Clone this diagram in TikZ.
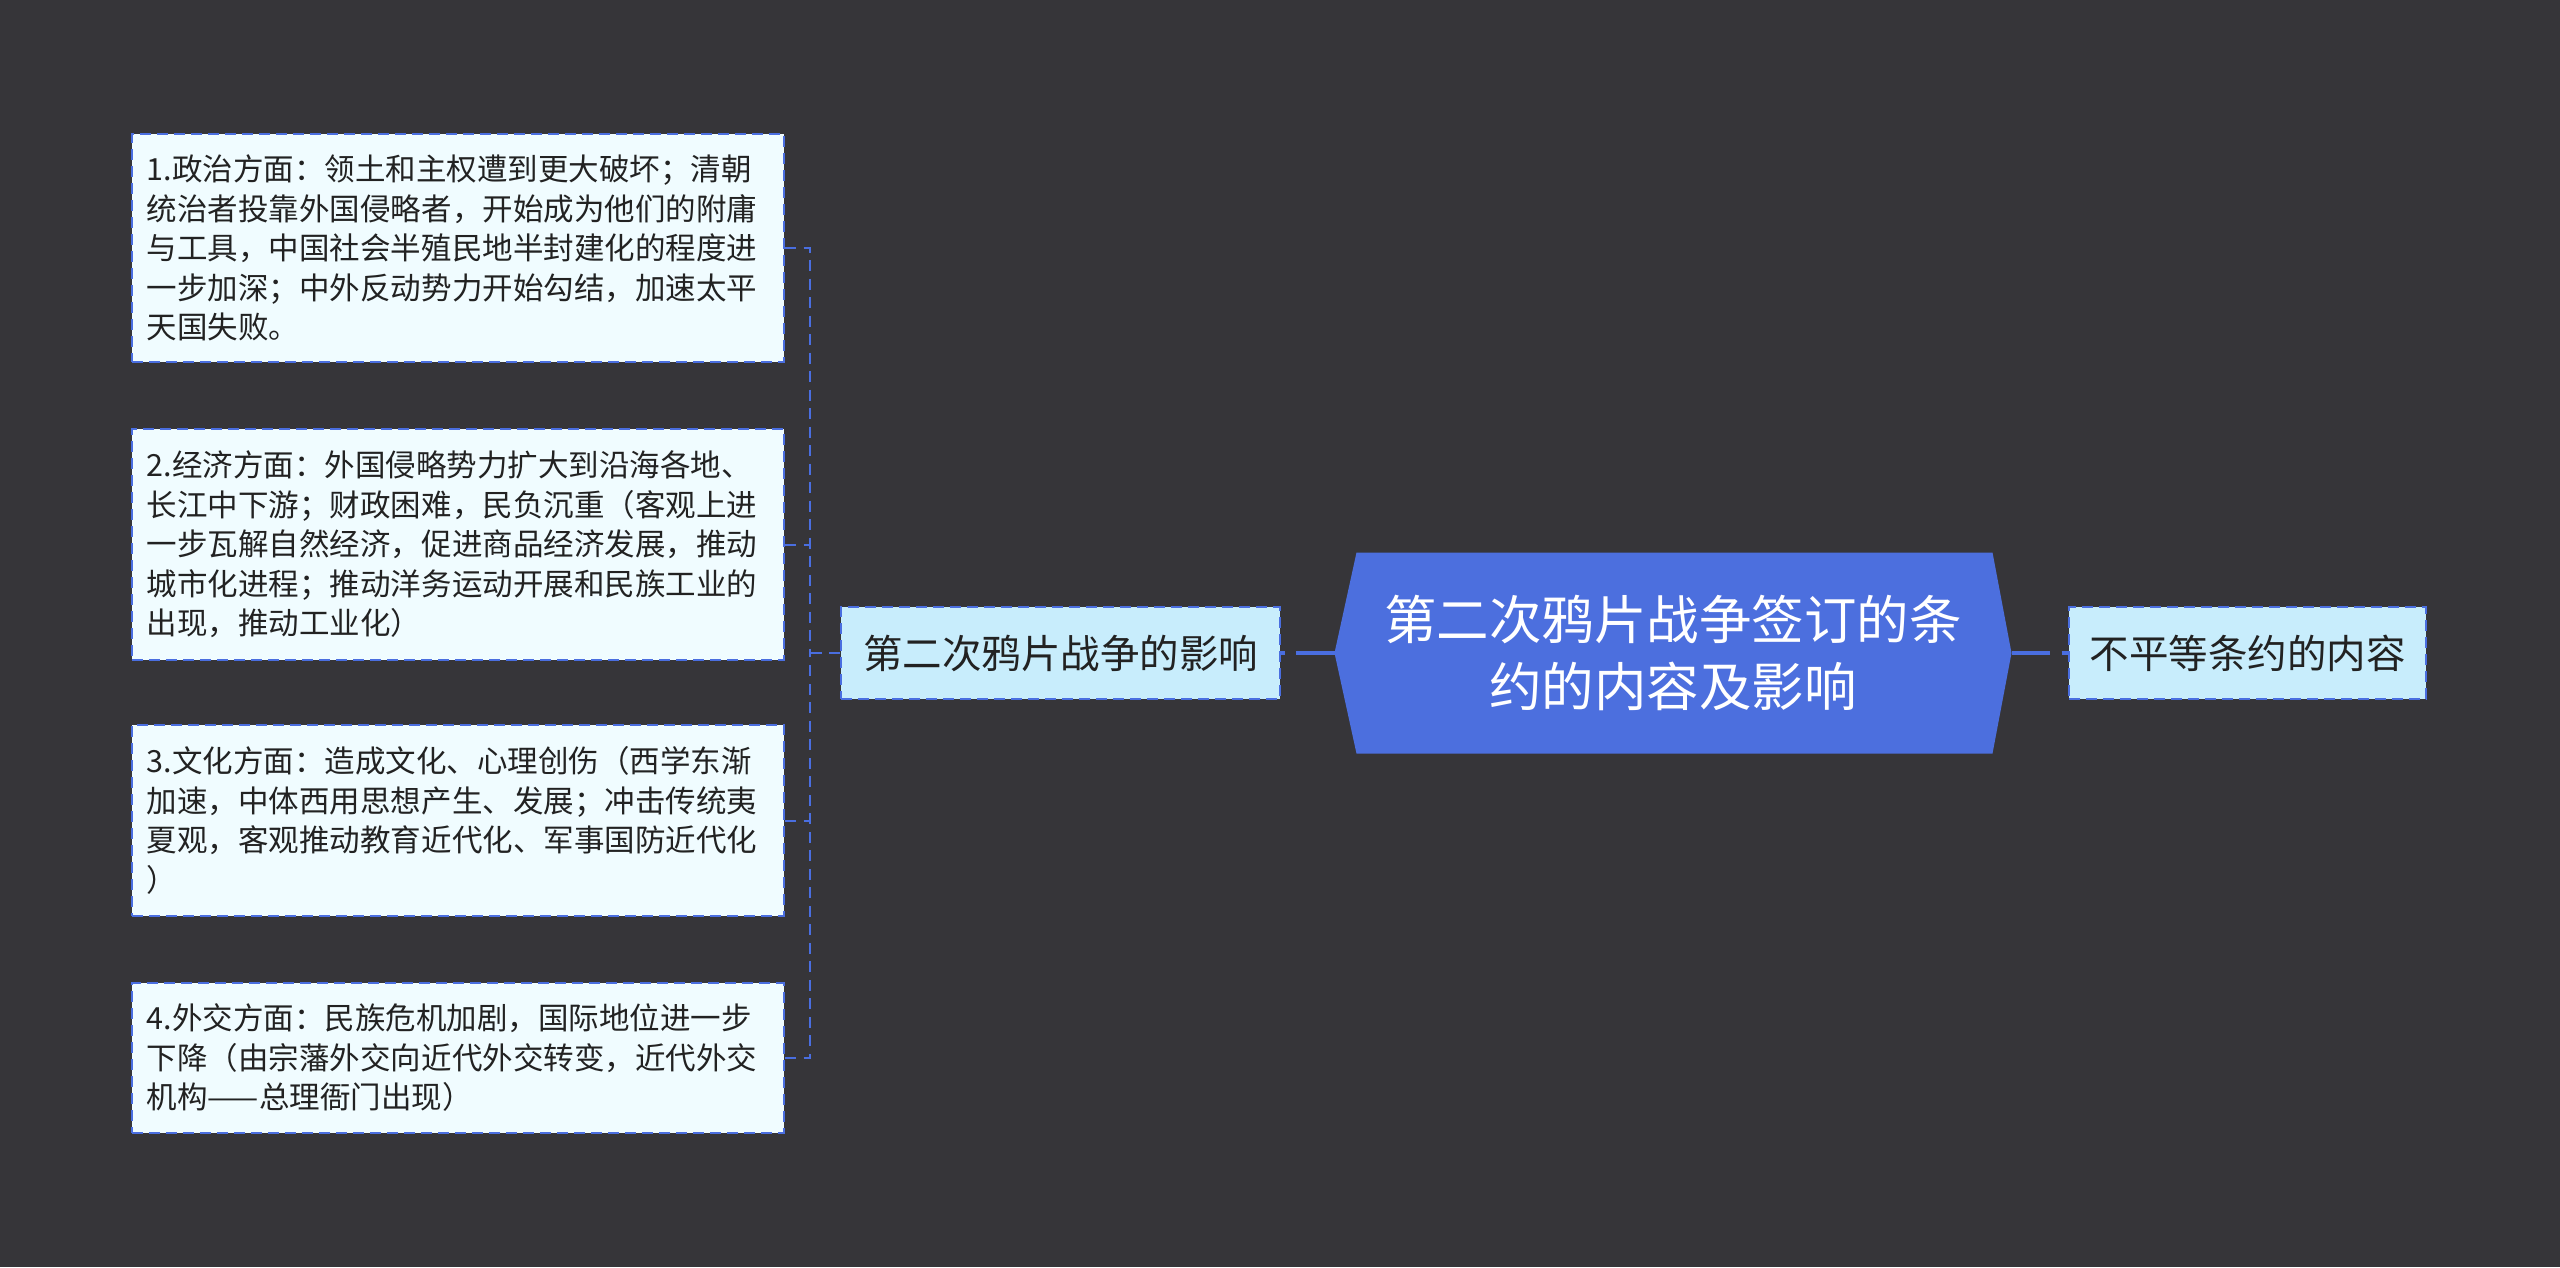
\documentclass[tikz,border=0pt]{standalone}
\usepackage{fontspec}
\setmainfont{Noto Sans CJK SC}
\usetikzlibrary{backgrounds}
\definecolor{bg}{RGB}{54,53,57}
\definecolor{edgeblue}{RGB}{74,110,224}
\definecolor{leaffill}{RGB}{240,252,255}
\definecolor{subfill}{RGB}{200,237,252}
\definecolor{hubfill}{RGB}{76,111,222}
\definecolor{ink}{RGB}{34,34,34}
\tikzset{
  leafbox/.style={draw=edgeblue, line width=0.8pt, dash pattern=on 4.4pt off 2.4pt,
    fill=leaffill, text=ink, minimum width=260.8pt, text width=248.8pt,
    inner xsep=6pt, inner ysep=0pt, align=left,
    font=\fontsize{12.2}{15.8}\selectfont},
  subbox/.style={draw=edgeblue, line width=0.8pt, dash pattern=on 4.4pt off 2.4pt,
    fill=subfill, text=ink, minimum height=36.8pt, inner sep=0pt,
    font=\fontsize{15.8}{20}\selectfont},
  hubnode/.style={minimum width=270.4pt, minimum height=80pt, inner sep=0pt,
    text=white, align=center, font=\fontsize{21}{27}\selectfont},
  conn/.style={draw=edgeblue, line width=0.8pt, dash pattern=on 4.4pt off 3pt},
  mainconn/.style={draw=edgeblue, line width=1.4pt, dash pattern=on 15.4pt off 4.6pt on 2.4pt off 10pt}
}
\begin{document}
\begin{tikzpicture}[x=0.4pt,y=-0.4pt]
\useasboundingbox (0,0) rectangle (2560,1267);

\node[hubnode] (c) at (1673,653) {第二次鸦片战争签订的条\\约的内容及影响};
\begin{scope}[on background layer]
\fill[bg] (0,0) rectangle (2560,1267);
\fill[hubfill] (c.west) -- ([xshift=8.8pt]c.north west) -- ([xshift=-7.6pt]c.north east)
  -- (c.east) -- ([xshift=-7.6pt]c.south east) -- ([xshift=8.8pt]c.south west) -- cycle;
\end{scope}

\node[subbox, minimum width=175.6pt] (m) at (1060.5,653) {第二次鸦片战争的影响};
\node[subbox, minimum width=142.8pt] (r) at (2247.5,653) {不平等条约的内容};

\node[leafbox, minimum height=91.2pt] (b1) at (458,248) {1.政治方面：领土和主权遭到更大破坏；清朝\\统治者投靠外国侵略者，开始成为他们的附庸\\与工具，中国社会半殖民地半封建化的程度进\\一步加深；中外反动势力开始勾结，加速太平\\天国失败。};
\node[leafbox, minimum height=92.4pt] (b2) at (458,544.5) {2.经济方面：外国侵略势力扩大到沿海各地、\\长江中下游；财政困难，民负沉重（客观上进\\一步瓦解自然经济，促进商品经济发展，推动\\城市化进程；推动洋务运动开展和民族工业的\\出现，推动工业化）};
\node[leafbox, minimum height=76.4pt] (b3) at (458,820.5) {3.文化方面：造成文化、心理创伤（西学东渐\\加速，中体西用思想产生、发展；冲击传统夷\\夏观，客观推动教育近代化、军事国防近代化\\）};
\node[leafbox, minimum height=60pt] (b4) at (458,1058) {4.外交方面：民族危机加剧，国际地位进一步\\下降（由宗藩外交向近代外交转变，近代外交\\机构——总理衙门出现）};

\coordinate (bus) at (810,653);
\draw[mainconn] (c.west) -- (m.east);
\draw[mainconn] (c.east) -- (r.west);
\draw[conn] (m.west) -- (bus);
\draw[conn] (b1.east) -| (bus);
\draw[conn] (b4.east) -| (bus);
\draw[conn] (b2.east) -- (b2.east -| bus);
\draw[conn] (b3.east) -- (b3.east -| bus);
\end{tikzpicture}
\end{document}
